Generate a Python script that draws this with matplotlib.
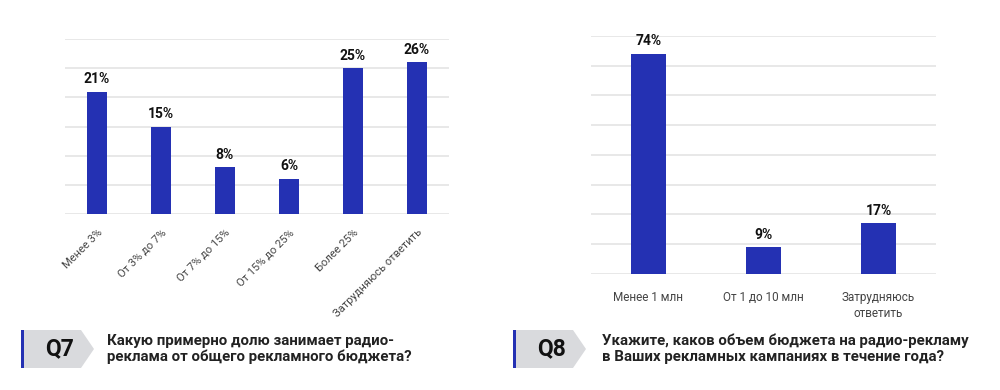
import matplotlib
matplotlib.use("Agg")
import matplotlib.pyplot as plt
from matplotlib.patches import Polygon, Rectangle

plt.rcParams['font.family'] = ['Roboto', 'DejaVu Sans']

q7_categories = ["Менее 3%", "От 3% до 7%", "От 7% до 15%", "От 15% до 25%", "Более 25%", "Затрудняюсь ответить"]
q7_values = [21, 15, 8, 6, 25, 26]
q7_question = "Какую примерно долю занимает радио-\nреклама от общего рекламного бюджета?"

q8_categories = ["Менее 1 млн", "От 1 до 10 млн", "Затрудняюсь\nответить"]
q8_values = [74, 9, 17]
q8_question = "Укажите, каков объем бюджета на радио-рекламу\nв Ваших рекламных кампаниях в течение года?"

BLUE = "#2431b3"
GRID = "#e4e4e4"
W, H = 1000, 390

fig = plt.figure(figsize=(10, 3.9), dpi=100)
fig.patch.set_facecolor("white")


def style(ax, ymax, step):
    ax.set_ylim(0, ymax)
    ax.set_yticks(range(0, ymax + 1, step))
    ax.yaxis.grid(True, color=GRID, linewidth=1.2)
    ax.set_axisbelow(True)
    for s in ax.spines.values():
        s.set_visible(False)
    ax.tick_params(axis='y', left=False, labelleft=False)
    ax.tick_params(axis='x', bottom=False)


# Q7 chart
ax1 = fig.add_axes([65 / W, 1 - 214 / H, 384 / W, 175 / H])
x1 = range(len(q7_values))
bars1 = ax1.bar(x1, q7_values, width=0.31, color=BLUE)
ax1.set_xlim(-0.5, len(q7_values) - 0.5)
style(ax1, 30, 5)
ax1.set_xticks(list(x1))
ax1.set_xticklabels(q7_categories, rotation=45, ha='right', rotation_mode='anchor',
                    fontsize=8, color="#444444")
ax1.tick_params(axis='x', pad=6)
for b, v in zip(bars1, q7_values):
    ax1.annotate(f"{v}%", (b.get_x() + b.get_width() / 2, v), xytext=(0, 4),
                 textcoords='offset points', ha='center', va='bottom',
                 fontsize=10, fontweight='bold', color="#111111")

# Q8 chart
ax2 = fig.add_axes([590.8 / W, 1 - 274 / H, 345.4 / W, 238 / H])
x2 = range(len(q8_values))
bars2 = ax2.bar(x2, q8_values, width=0.31, color=BLUE)
ax2.set_xlim(-0.5, len(q8_values) - 0.5)
style(ax2, 80, 10)
ax2.set_xticks(list(x2))
ax2.set_xticklabels(q8_categories, fontsize=8.5, color="#444444", linespacing=1.3)
ax2.tick_params(axis='x', pad=9)
for b, v in zip(bars2, q8_values):
    ax2.annotate(f"{v}%", (b.get_x() + b.get_width() / 2, v), xytext=(0, 4),
                 textcoords='offset points', ha='center', va='bottom',
                 fontsize=10, fontweight='bold', color="#111111")


def px(x, y):
    return (x / W, 1 - y / H)


def badge(x0, label, question, text_x):
    top, bot, mid = 330, 368, 349
    body_r, tip = x0 + 60, x0 + 73
    pts = [px(x0, top), px(body_r, top), px(tip, mid), px(body_r, bot), px(x0, bot)]
    fig.patches.append(Polygon(pts, closed=True, transform=fig.transFigure,
                               facecolor="#d9dadd", edgecolor='none'))
    fig.patches.append(Rectangle(px(x0, bot), 3 / W, (bot - top) / H, transform=fig.transFigure,
                                 facecolor=BLUE, edgecolor='none'))
    cx, cy = px(x0 + 39, mid)
    fig.text(cx, cy, label, ha='center', va='center', fontsize=16.5, fontweight='bold',
             color="#111111")
    tx, ty = px(text_x, mid)
    fig.text(tx, ty, question, ha='left', va='center', fontsize=10.8, fontweight='bold',
             color="#222222", linespacing=1.2)


badge(21, "Q7", q7_question, 107)
badge(513, "Q8", q8_question, 602)

fig.savefig("out.png", dpi=100, facecolor="white")
